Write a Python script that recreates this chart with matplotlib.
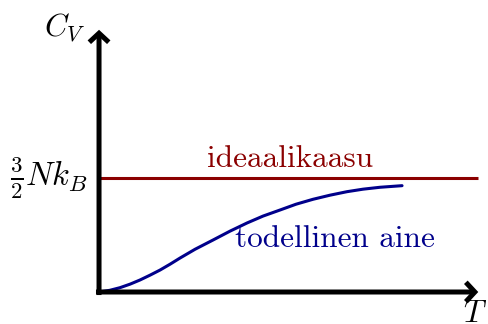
import matplotlib
matplotlib.use("Agg")
import matplotlib.pyplot as plt

plt.rcParams['mathtext.fontset'] = 'cm'
plt.rcParams['font.family'] = 'serif'
plt.rcParams['font.serif'] = ['cmr10', 'DejaVu Serif']

# heat capacity of a real substance vs temperature (arbitrary units)
T_real = [0.0, 0.14, 0.276, 0.41, 0.539, 0.67, 0.803, 0.935, 1.066, 1.263,
          1.5, 1.724, 1.947, 2.158, 2.382, 2.592, 2.816, 3.04, 3.263, 3.474,
          3.697, 3.987]
C_real = [0.0, 0.022, 0.057, 0.104, 0.158, 0.221, 0.289, 0.366, 0.447, 0.562,
          0.684, 0.801, 0.908, 0.999, 1.079, 1.155, 1.220, 1.274, 1.320, 1.353,
          1.378, 1.399]
C_ideal = 1.5      # 3/2 N k_B
T_max = 4.99
C_max = 3.45

red = '#8b0000'
blue = '#00008b'

fig = plt.figure(figsize=(4.88, 3.24), dpi=100)
ax = fig.add_axes([0, 0, 1, 1])
ax.set_xlim(-1.303, 5.118)
ax.set_ylim(-0.421, 3.842)
ax.axis('off')

ax.plot([0, T_max], [C_ideal, C_ideal], color=red, lw=2.2, solid_capstyle='butt')
ax.plot(T_real, C_real, color=blue, lw=2.2, solid_capstyle='round',
        solid_joinstyle='round')

arrow = dict(arrowstyle='->,head_length=0.65,head_width=0.7', lw=3.6,
             color='black', shrinkA=0, shrinkB=0, capstyle='butt',
             joinstyle='miter')
ax.annotate('', xy=(T_max, 0), xytext=(-0.04, 0), arrowprops=arrow)
ax.annotate('', xy=(0, C_max), xytext=(0, -0.04), arrowprops=arrow)

ax.text(-0.45, 3.48, r'$C_V$', fontsize=22.5, ha='center', va='center')
ax.text(T_max - 0.04, -0.1, r'$T$', fontsize=22.5, ha='center', va='top')
ax.text(-0.14, C_ideal, r'$\frac{3}{2}Nk_B$', fontsize=23.5, ha='right', va='center')

ax.text(2.51, 1.645, 'ideaalikaasu', color=red, fontsize=22.5, ha='center', va='baseline')
ax.text(3.105, 0.596, 'todellinen aine', color=blue, fontsize=22.5, ha='center', va='baseline')

fig.savefig('out.png', dpi=100)
